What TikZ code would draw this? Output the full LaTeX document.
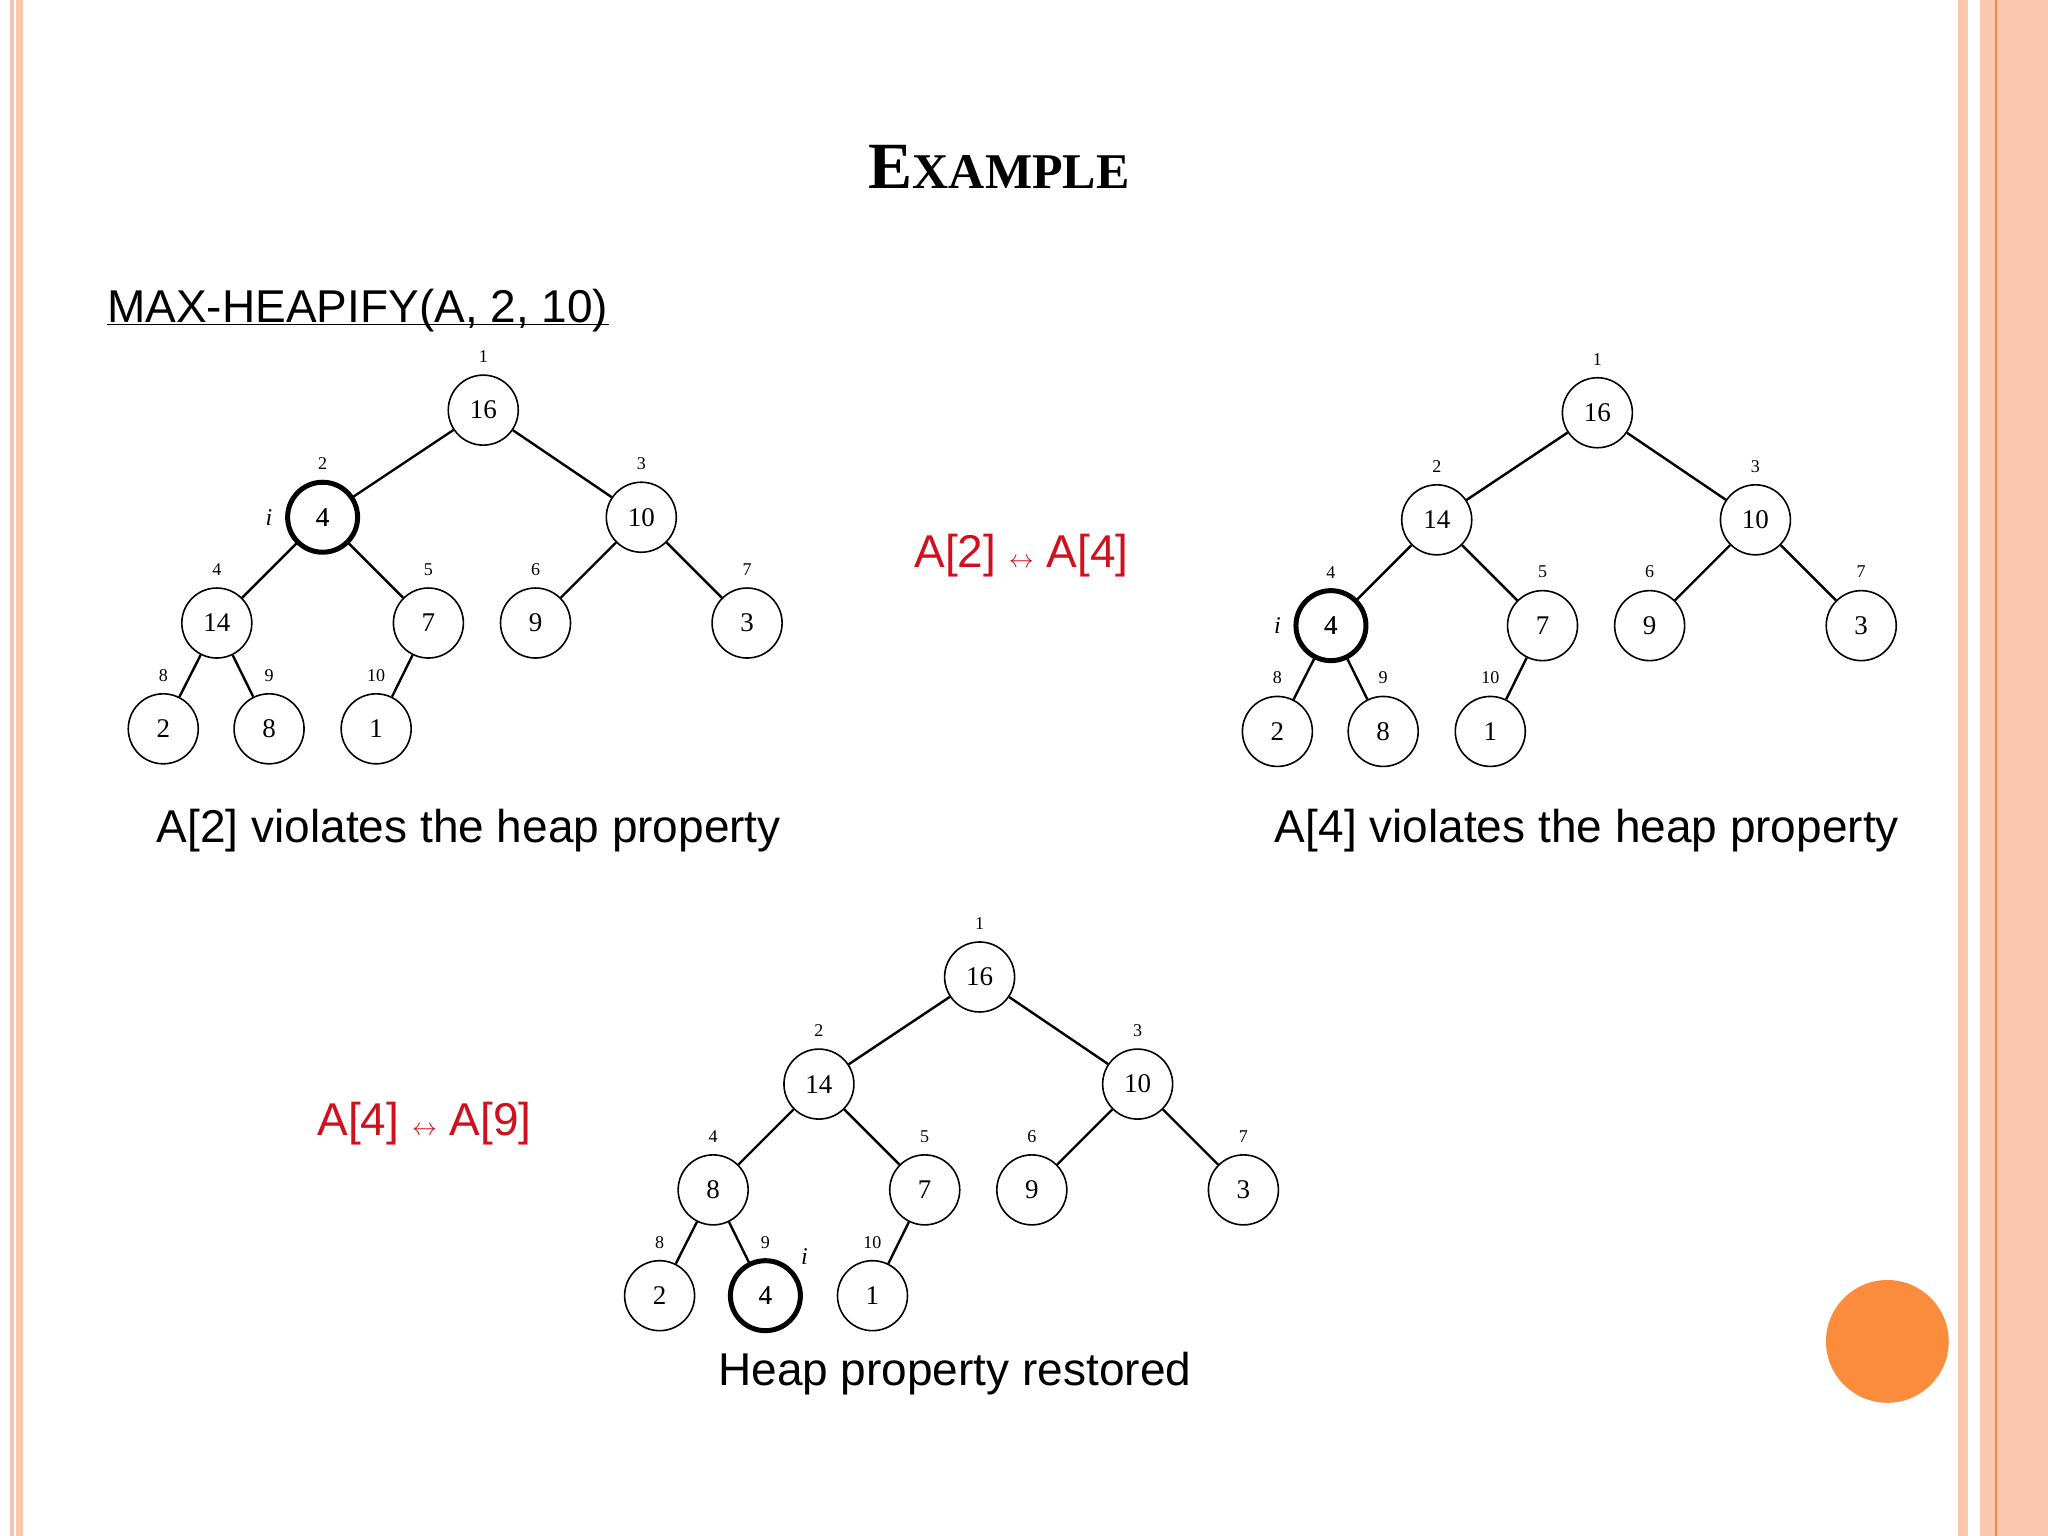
\documentclass[tikz,border=0pt]{standalone}
\usepackage{fontspec}
\setmainfont{Liberation Sans}
\newfontfamily\treefont{Liberation Serif}
\usetikzlibrary{calc}
\definecolor{peach}{HTML}{FDC6AE}
\definecolor{peachb}{HTML}{F6C2B4}
\definecolor{oline}{HTML}{F08A4B}
\definecolor{dot}{HTML}{FB8C3C}
\definecolor{swapred}{HTML}{D0101C}
\tikzset{
  hnode/.style={circle,draw,line width=1.6pt,minimum size=70pt,inner sep=0pt,font=\treefont\fontsize{27}{27}\selectfont},
  hl/.style={line width=5pt},
  idx/.style={font=\treefont\fontsize{18}{18}\selectfont,inner sep=0pt},
  edge/.style={line width=2.4pt},
  caption/.style={font=\fontsize{46}{46}\selectfont,inner sep=0pt},
  swap/.style={font=\fontsize{46}{46}\selectfont,text=swapred,inner sep=0pt}
}
% #1 prefix, #2 root x, #3 root y, #4..: values
\newcommand\heaptree[5]{%
 \begin{scope}[shift={(#2,#3)}]
 \foreach \k/\dx/\dy/\v in {#4} {
   \node[hnode] (#1\k) at (\dx,\dy) {\v};
   \node[idx] at (\dx,\dy-41) {\k};
 }
 \draw[edge] (#11)--(#12) (#11)--(#13) (#12)--(#14) (#12)--(#15) (#13)--(#16) (#13)--(#17)
   (#14)--(#18) (#14)--(#19) (#15)--(#110);
 #5
 \end{scope}}
\begin{document}
\begin{tikzpicture}[x=1.30612pt,y=-1.30612pt]
\useasboundingbox (0,0) rectangle (1568,1176);
\fill[white] (0,0) rectangle (1568,1176);
% borders
\fill[peachb] (7.7,0) rectangle (10.7,1176);
\fill[peach] (12,0) rectangle (17.6,1176);
\fill[peach] (1499,0) rectangle (1507,1176);
\fill[peach] (1516,0) rectangle (1568,1176);
\draw[oline,line width=1.5pt] (1528,0)--(1528,1176);
\fill[dot] (1445,1027) circle (47);
% title
\node[font=\treefont\bfseries\fontsize{66}{66}\selectfont] (title) at (765,128) {E\fontsize{50}{50}\selectfont XAMPLE};
\node[caption,anchor=west] (call) at (82,238) {MAX-HEAPIFY(A, 2, 10)};
\draw[line width=1.3pt] ($(call.south west)+(0,-6)$) -- ($(call.south east)+(0,-6)$);
% tree 1
\heaptree{a}{370}{314}{1/0/0/16,2/-123/82/4,3/121/82/10,4/-204/163/14,5/-42/163/7,6/40/163/9,7/202/163/3,8/-245/244/2,9/-164/244/8,10/-82/244/1}
 {\node[hnode,hl] at (a2) {4}; \node[idx,font=\treefont\itshape\fontsize{24}{24}\selectfont] at ($(a2)+(-41,0)$) {i};}
\node[caption] (c1) at (359,636) {A[2] violates the heap property};
\node[swap] (s1) at (782,425) {A[2] $\leftrightarrow$ A[4]};
% tree 2
\heaptree{b}{1223}{316}{1/0/0/16,2/-123/82/14,3/121/82/10,4/-204/163/4,5/-42/163/7,6/40/163/9,7/202/163/3,8/-245/244/2,9/-164/244/8,10/-82/244/1}
 {\node[hnode,hl] at (b4) {4}; \node[idx,font=\treefont\itshape\fontsize{24}{24}\selectfont] at ($(b4)+(-41,0)$) {i};}
\node[caption] (c2) at (1215,636) {A[4] violates the heap property};
% tree 3
\node[swap] (s2) at (325,860) {A[4] $\leftrightarrow$ A[9]};
\heaptree{c}{750}{748}{1/0/0/16,2/-123/82/14,3/121/82/10,4/-204/163/8,5/-42/163/7,6/40/163/9,7/202/163/3,8/-245/244/2,9/-164/244/4,10/-82/244/1}
 {\node[hnode,hl] at (c9) {4}; \node[idx,font=\treefont\itshape\fontsize{24}{24}\selectfont] at ($(c9)+(30,-30)$) {i};}
\node[caption] (c3) at (731,1052) {Heap property restored};
\end{tikzpicture}
\end{document}
